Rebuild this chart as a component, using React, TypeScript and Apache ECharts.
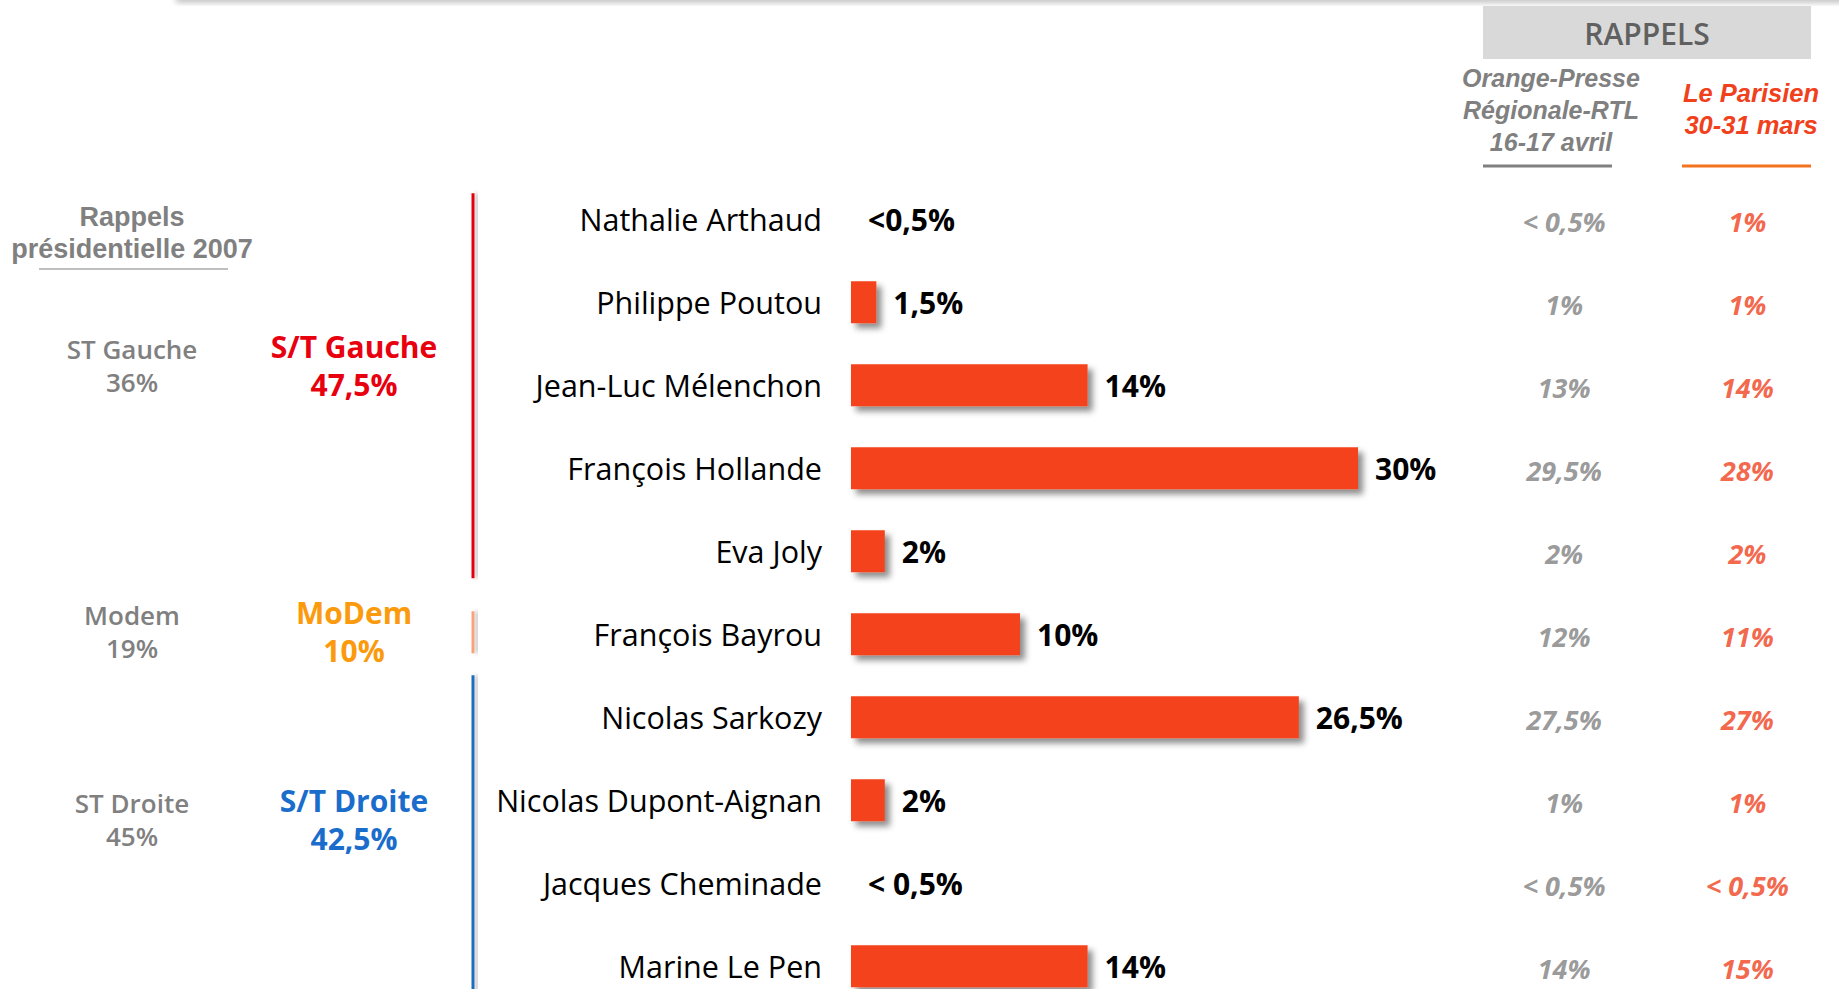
import React, { useEffect, useRef } from "react";
import * as echarts from "echarts";

const candidates = [
  "Nathalie Arthaud",
  "Philippe Poutou",
  "Jean-Luc Mélenchon",
  "François Hollande",
  "Eva Joly",
  "François Bayrou",
  "Nicolas Sarkozy",
  "Nicolas Dupont-Aignan",
  "Jacques Cheminade",
  "Marine Le Pen",
];
const scores = [0, 1.5, 14, 30, 2, 10, 26.5, 2, 0, 14];
const scoreLabels = ["<0,5%", "1,5%", "14%", "30%", "2%", "10%", "26,5%", "2%", "< 0,5%", "14%"];
const orangePresse = ["< 0,5%", "1%", "13%", "29,5%", "2%", "12%", "27,5%", "1%", "< 0,5%", "14%"];
const leParisien = ["1%", "1%", "14%", "28%", "2%", "11%", "27%", "1%", "< 0,5%", "15%"];
const tableColumns = ["Orange-Presse Régionale-RTL 16-17 avril", "Le Parisien 30-31 mars"];

const groupNames2007 = ["ST Gauche", "Modem", "ST Droite"];
const groupValues2007 = ["36%", "19%", "45%"];
const groupNames2012 = ["S/T Gauche", "MoDem", "S/T Droite"];
const groupValues2012 = ["47,5%", "10%", "42,5%"];
const groupFirst = [0, 5, 6];
const groupLast = [4, 5, 9];

const FONT = "'Open Sans', 'Liberation Sans', sans-serif";
const TIGHT = "'Liberation Sans', Arial, sans-serif";
const BAR = "#F4431D";
const GRAY = "#808080";
const groupColors = ["#E8000F", "#FA9A0C", "#1A6DCB"];
const bracketColors = ["#E3000F", "#F6A27A", "#1F6DBA"];
const groupLabelY = [365, 631, 819];

export default function App() {
  const ref = useRef<HTMLDivElement>(null);
  useEffect(() => {
    if (!ref.current) return;
    const chart = echarts.init(ref.current, undefined, { renderer: "svg" });
    const option: any = {
      animation: false,
      backgroundColor: "#ffffff",
      grid: [
        { left: 851, top: 177.8, width: 676, height: 830 },
        { left: 1472.5, top: 177.8, width: 384, height: 830 },
      ],
      xAxis: [
        { type: "value", gridIndex: 0, min: 0, max: 40, show: false },
        { type: "category", gridIndex: 1, data: tableColumns, show: false },
      ],
      yAxis: [
        {
          type: "category",
          gridIndex: 0,
          data: candidates,
          inverse: true,
          axisLine: { show: false },
          axisTick: { show: false },
          splitLine: { show: false },
          axisLabel: {
            margin: 29,
            fontFamily: FONT,
            fontSize: 30.5,
            color: "#000",
          },
        },
        { type: "category", gridIndex: 1, data: candidates, inverse: true, show: false },
      ],
      series: [
        {
          type: "bar",
          xAxisIndex: 0,
          yAxisIndex: 0,
          data: scores,
          barWidth: 42,
          itemStyle: {
            color: BAR,
            shadowBlur: 6,
            shadowColor: "rgba(0,0,0,0.45)",
            shadowOffsetX: 5,
            shadowOffsetY: 5,
          },
          label: {
            show: true,
            position: "right",
            distance: 17,
            formatter: (p: any) => scoreLabels[p.dataIndex],
            fontFamily: FONT,
            fontWeight: "bold",
            fontSize: 30,
            color: "#000",
          },
        },
        {
          type: "scatter",
          xAxisIndex: 1,
          yAxisIndex: 1,
          symbolSize: 1,
          itemStyle: { color: "transparent" },
          data: orangePresse.map((_, i) => [tableColumns[0], candidates[i]]),
          label: {
            show: true,
            position: "inside",
            offset: [0, 2],
            formatter: (p: any) => orangePresse[p.dataIndex],
            fontFamily: FONT,
            fontStyle: "italic",
            fontWeight: "bold",
            fontSize: 27,
            color: GRAY,
          },
        },
        {
          type: "scatter",
          xAxisIndex: 1,
          yAxisIndex: 1,
          symbolSize: 1,
          itemStyle: { color: "transparent" },
          data: leParisien.map((_, i) => [tableColumns[1], candidates[i]]),
          label: {
            show: true,
            position: "inside",
            offset: [0, 2],
            formatter: (p: any) => leParisien[p.dataIndex],
            fontFamily: FONT,
            fontStyle: "italic",
            fontWeight: "bold",
            fontSize: 27,
            color: "#F0401C",
          },
        },
      ],
    };
    chart.setOption(option);

    const rowY = (i: number) => {
      const p = chart.convertToPixel({ gridIndex: 0 }, [0, i]) as any;
      const y = Array.isArray(p) ? p[1] : (p as number);
      return Number.isFinite(y) ? y : 219.3 + 83 * i;
    };
    const bracketTopPad = [26, 23, 42];
    const bracketBottomPad = [27, 19, 60];

    const graphic: any[] = [
      {
        type: "rect",
        shape: { x: 176, y: -6, width: 1700, height: 6 },
        style: { fill: "#ffffff", shadowBlur: 6, shadowColor: "rgba(0,0,0,0.3)", shadowOffsetY: 2 },
      },
      { type: "rect", shape: { x: 1483, y: 6, width: 328, height: 53 }, style: { fill: "#D9D9D9" } },
      {
        type: "text",
        x: 1647,
        y: 33,
        style: {
          text: "RAPPELS",
          fill: "#606060",
          font: `600 30px ${FONT}`,
          textAlign: "center",
          textVerticalAlign: "middle",
        },
      },
      {
        type: "text",
        x: 1551,
        y: 110,
        style: {
          text: "Orange-Presse\nRégionale-RTL\n16-17 avril",
          fill: GRAY,
          font: `italic bold 25px ${TIGHT}`,
          lineHeight: 32,
          textAlign: "center",
          textVerticalAlign: "middle",
        },
      },
      {
        type: "line",
        shape: { x1: 1483, y1: 166, x2: 1612, y2: 166 },
        style: { stroke: GRAY, lineWidth: 3 },
      },
      {
        type: "text",
        x: 1751,
        y: 109,
        style: {
          text: "Le Parisien\n30-31 mars",
          fill: "#F0401C",
          font: `italic bold 25.5px ${TIGHT}`,
          lineHeight: 32,
          textAlign: "center",
          textVerticalAlign: "middle",
        },
      },
      {
        type: "line",
        shape: { x1: 1682, y1: 166, x2: 1811, y2: 166 },
        style: { stroke: "#F4731F", lineWidth: 3 },
      },
      {
        type: "text",
        x: 132,
        y: 233,
        style: {
          text: "Rappels\nprésidentielle 2007",
          fill: GRAY,
          font: `bold 27px ${TIGHT}`,
          lineHeight: 31.5,
          textAlign: "center",
          textVerticalAlign: "middle",
        },
      },
      {
        type: "line",
        shape: { x1: 39, y1: 269, x2: 228, y2: 269 },
        style: { stroke: "#BFBFBF", lineWidth: 2 },
      },
    ];

    groupNames2007.forEach((name, g) => {
      graphic.push({
        type: "text",
        x: 132,
        y: groupLabelY[g],
        style: {
          text: name + "\n" + groupValues2007[g],
          fill: GRAY,
          font: `600 26px ${FONT}`,
          lineHeight: 33,
          textAlign: "center",
          textVerticalAlign: "middle",
        },
      });
      graphic.push({
        type: "text",
        x: 354,
        y: groupLabelY[g],
        style: {
          text: groupNames2012[g] + "\n" + groupValues2012[g],
          fill: groupColors[g],
          font: `bold 30px ${FONT}`,
          lineHeight: 38,
          textAlign: "center",
          textVerticalAlign: "middle",
        },
      });
      const y1 = rowY(groupFirst[g]) - bracketTopPad[g];
      const y2 = rowY(groupLast[g]) + bracketBottomPad[g];
      graphic.push({
        type: "rect",
        shape: { x: 471.5, y: y1, width: 3, height: y2 - y1 },
        style: {
          fill: bracketColors[g],
          shadowBlur: 4,
          shadowColor: "rgba(0,0,0,0.3)",
          shadowOffsetX: 4,
        },
      });
    });

    chart.setOption({ graphic });
    return () => chart.dispose();
  }, []);

  return (
    <div
      ref={ref}
      style={{ position: "fixed", left: 0, top: 0, width: 1839, height: 1040, background: "#fff" }}
    />
  );
}
